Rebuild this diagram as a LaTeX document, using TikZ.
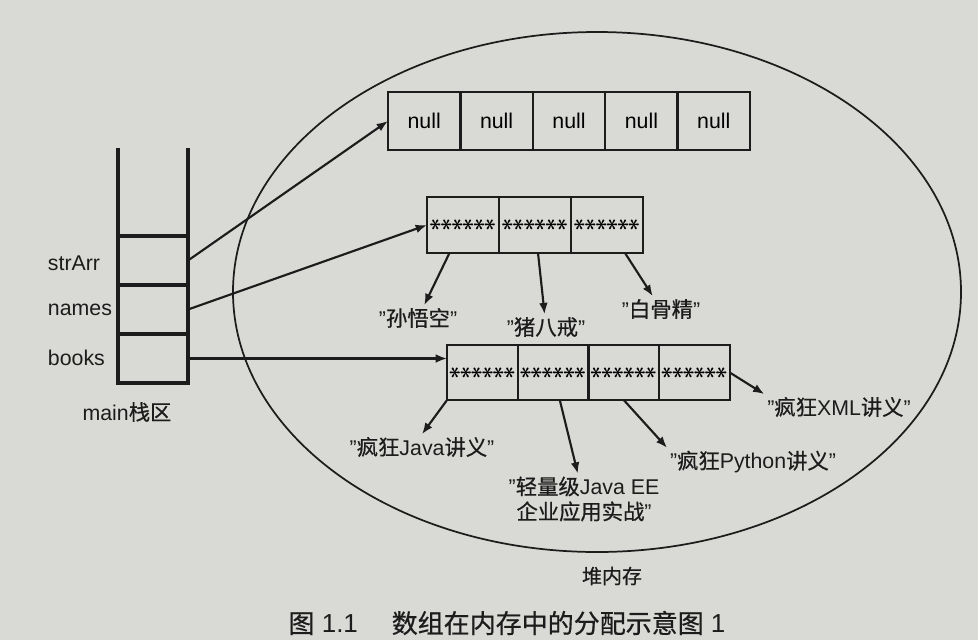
\documentclass[tikz,border=0pt]{standalone}
\usepackage{fontspec}
\setmainfont{Liberation Sans}
\newfontfamily\zh[FakeBold=0.6]{Noto Sans CJK SC}
\usetikzlibrary{arrows.meta,positioning}

\definecolor{paper}{RGB}{217,217,214}
\definecolor{ink}{RGB}{28,28,28}

\newcommand{\onestar}{\rotatebox{90}{\boldmath$\ast$}}
\newcommand{\stars}{\onestar\onestar\onestar\onestar\onestar\onestar}

\tikzset{
  cell/.style={draw=ink, line width=1.8pt, outer sep=0pt, inner sep=0pt,
    minimum width=54pt, minimum height=43pt},
  slot/.style={draw=ink, line width=2.8pt, outer sep=0pt, inner sep=0pt,
    minimum width=52.5pt, minimum height=36.75pt},
  rail/.style={draw=ink, line width=2.8pt},
  ref/.style={draw=ink, line width=1.6pt, -{Latex[length=8.5pt,width=6.5pt]}},
  lbl/.style={text=ink, inner sep=2pt},
}

\begin{document}
\begin{tikzpicture}[x=0.75pt, y=-0.75pt, font=\fontsize{16}{19}\selectfont]
    \fill[paper] (0,0) rectangle (978,640);
    \useasboundingbox (0,0) rectangle (978,640);

    \draw[ink, line width=1.3pt] (597,292) ellipse [x radius=364, y radius=260];

    \node[slot] (sStr) at (153,260.5) {};
    \node[slot, below=0pt of sStr] (sNames) {};
    \node[slot, below=0pt of sNames] (sBooks) {};
    \draw[rail] (sStr.north west) -- ++(0,-88);
    \draw[rail] (sStr.north east) -- ++(0,-88);

    \node[lbl, anchor=west] (tStr) at (45,263) {strArr};
    \node[lbl, anchor=west] (tNames) at (45,310) {names};
    \node[lbl, anchor=west] (tBooks) at (45,358) {books};
    \node[lbl] (tMain) at (127,412) {main{\zh 栈区}};

    \node[cell, minimum width=54.3pt, minimum height=43.5pt] (n1) at (424.2,121) {null};
    \node[cell, minimum width=54.3pt, minimum height=43.5pt, right=0pt of n1] (n2) {null};
    \node[cell, minimum width=54.3pt, minimum height=43.5pt, right=0pt of n2] (n3) {null};
    \node[cell, minimum width=54.3pt, minimum height=43.5pt, right=0pt of n3] (n4) {null};
    \node[cell, minimum width=54.3pt, minimum height=43.5pt, right=0pt of n4] (n5) {null};

    \node[cell, minimum height=42pt] (m1) at (463,225) {\stars};
    \node[cell, minimum height=42pt, right=0pt of m1] (m2) {\stars};
    \node[cell, minimum height=42pt, right=0pt of m2] (m3) {\stars};

    \node[cell, minimum width=53pt, minimum height=41.25pt] (b1) at (482.4,372.5) {\stars};
    \node[cell, minimum width=53pt, minimum height=41.25pt, right=0pt of b1] (b2) {\stars};
    \node[cell, minimum width=53pt, minimum height=41.25pt, right=0pt of b2] (b3) {\stars};
    \node[cell, minimum width=53pt, minimum height=41.25pt, right=0pt of b3] (b4) {\stars};

    \node[lbl] (swk) at (418,318) {"{\zh 孙悟空}"};
    \node[lbl] (zbj) at (546,327) {"{\zh 猪八戒}"};
    \node[lbl] (bgj) at (661,309) {"{\zh 白骨精}"};

    \node[lbl] (java) at (422,447) {"{\zh 疯狂}Java{\zh 讲义}"};
    \node[lbl, align=center, font=\fontsize{16}{18.75}\selectfont] (lj) at (584,499)
      {"{\zh 轻量级}Java EE\\{\zh 企业应用实战}"};
    \node[lbl] (py) at (753,462) {"{\zh 疯狂}Python{\zh 讲义}"};
    \node[lbl] (xml) at (839,407) {"{\zh 疯狂}XML{\zh 讲义}"};

    \node[lbl, font=\fontsize{15}{18}\selectfont] (heap) at (612,576) {\zh 堆内存};
    \node[lbl, font=\fontsize{19.5}{23}\selectfont] (cap) at (507,623)
      {{\zh 图} 1.1\hspace{1.3em}{\zh 数组在内存中的分配示意图} 1};

    \draw[ref] (sStr.east) -- (n1.west);
    \draw[ref] (sNames.east) -- (m1.west);
    \draw[ref] (sBooks.east) -- (sBooks.east -| b1.west);

    \draw[ref] (m1) -- (swk);
    \draw[ref] (m2) -- (zbj);
    \draw[ref] (m3) -- (bgj);

    \draw[ref] (b1.south west) -- (java.north);
    \draw[ref] (b2) -- (lj);
    \draw[ref] (b3.south) -- (py.north west);
    \draw[ref] (b4.east) -- (xml.north west);
  \end{tikzpicture}
\end{document}
